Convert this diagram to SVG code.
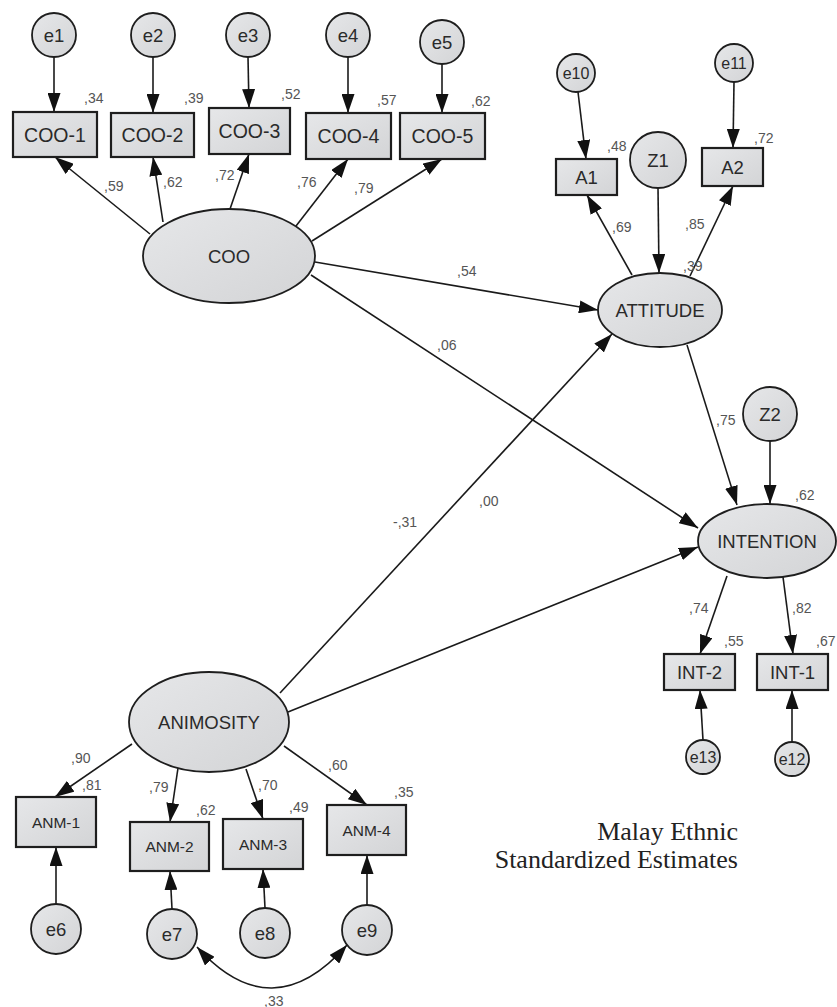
<svg xmlns="http://www.w3.org/2000/svg" width="837" height="1007" viewBox="0 0 837 1007">
<defs>
<linearGradient id="g" x1="0" y1="0" x2="1" y2="1">
<stop offset="0" stop-color="#e6e7e9"/>
<stop offset="1" stop-color="#d3d4d6"/>
</linearGradient>
<marker id="ah" viewBox="0 0 19 13" refX="19" refY="6.5" markerWidth="19" markerHeight="13" orient="auto-start-reverse" markerUnits="userSpaceOnUse">
<path d="M0,0 L19,6.5 L0,13 z" fill="#111"/>
</marker>
<style>
.n{fill:url(#g);stroke:#1e1e1e;stroke-width:1.8}
.r{fill:url(#g);stroke:#1e1e1e;stroke-width:2.2}
.t{font-family:"Liberation Sans",Arial,sans-serif;font-size:18.5px;fill:#2a2a2a;text-anchor:middle;dominant-baseline:central}
.ts{font-size:16px}
.tm{font-size:19.5px}
.ta{font-size:15.5px}
.v{font-family:"Liberation Sans",Arial,sans-serif;font-size:14px;fill:#555}
.c line,.c path{stroke:#1a1a1a;stroke-width:1.6;fill:none;marker-end:url(#ah)}
.cap{font-family:"Liberation Serif","Times New Roman",serif;font-size:26px;fill:#222;text-anchor:end}
</style>
</defs>
<rect width="837" height="1007" fill="#fff"/>

<g id="connectors" class="c">
<line x1="54" y1="57" x2="54" y2="112"/>
<line x1="153" y1="57" x2="153" y2="113"/>
<line x1="248" y1="57" x2="249" y2="108"/>
<line x1="348" y1="57" x2="348" y2="113"/>
<line x1="442" y1="64" x2="442" y2="113"/>
<line x1="150" y1="234" x2="55" y2="157"/>
<line x1="163" y1="222" x2="153" y2="157"/>
<line x1="230" y1="209" x2="249" y2="154"/>
<line x1="296" y1="226" x2="348" y2="159"/>
<line x1="312" y1="241" x2="442" y2="159"/>
<line x1="578" y1="92" x2="586" y2="159"/>
<line x1="734" y1="82" x2="733" y2="148"/>
<line x1="658" y1="188" x2="659" y2="273"/>
<line x1="632" y1="275" x2="587" y2="195"/>
<line x1="690" y1="276" x2="733" y2="186"/>
<line x1="315" y1="262" x2="598" y2="310"/>
<line x1="311" y1="275" x2="698" y2="528"/>
<line x1="280" y1="693" x2="612" y2="334"/>
<line x1="288" y1="712" x2="698" y2="547"/>
<line x1="687" y1="345" x2="737" y2="505"/>
<line x1="770" y1="441" x2="770" y2="504"/>
<line x1="727" y1="576" x2="700" y2="654"/>
<line x1="783" y1="577" x2="793" y2="654"/>
<line x1="703" y1="740" x2="700" y2="690"/>
<line x1="792" y1="742" x2="792" y2="690"/>
<line x1="132" y1="744" x2="55" y2="797"/>
<line x1="178" y1="768" x2="170" y2="822"/>
<line x1="246" y1="769" x2="263" y2="819"/>
<line x1="284" y1="746" x2="367" y2="805"/>
<line x1="56" y1="904" x2="56" y2="847"/>
<line x1="172" y1="909" x2="170" y2="871"/>
<line x1="265" y1="908" x2="263" y2="869"/>
<line x1="367" y1="905" x2="367" y2="855"/>
<path d="M197,947 Q272,1030 347,945" style="marker-start:url(#ah)"/>
</g>

<g id="e1"><circle class="n" cx="54" cy="35" r="22"/><text class="t" x="54" y="35">e1</text></g>
<g id="e2"><circle class="n" cx="153" cy="35" r="22"/><text class="t" x="153" y="35">e2</text></g>
<g id="e3"><circle class="n" cx="248" cy="35" r="22"/><text class="t" x="248" y="35">e3</text></g>
<g id="e4"><circle class="n" cx="348" cy="35" r="22"/><text class="t" x="348" y="35">e4</text></g>
<g id="e5"><circle class="n" cx="442" cy="42" r="22"/><text class="t" x="442" y="42">e5</text></g>

<g id="coo1"><rect class="r" x="13" y="112" width="84" height="45"/><text class="t tm" x="55" y="134.5">COO-1</text></g>
<g id="coo2"><rect class="r" x="111" y="113" width="83" height="44"/><text class="t tm" x="152.5" y="135">COO-2</text></g>
<g id="coo3"><rect class="r" x="209" y="108" width="81" height="46"/><text class="t tm" x="249.5" y="131">COO-3</text></g>
<g id="coo4"><rect class="r" x="306" y="113" width="85" height="46"/><text class="t tm" x="348.5" y="136">COO-4</text></g>
<g id="coo5"><rect class="r" x="400" y="113" width="85" height="46"/><text class="t tm" x="442.5" y="136">COO-5</text></g>

<g id="coo"><ellipse class="n" cx="229" cy="256" rx="86" ry="47"/><text class="t" x="229" y="256">COO</text></g>

<g id="e10"><circle class="n" cx="576" cy="73" r="19"/><text class="t ts" x="576" y="73">e10</text></g>
<g id="e11"><circle class="n" cx="734" cy="63" r="19"/><text class="t ts" x="734" y="63">e11</text></g>
<g id="z1"><circle class="n" cx="658" cy="160" r="28"/><text class="t" x="658" y="160">Z1</text></g>
<g id="a1"><rect class="r" x="556" y="159" width="61" height="36"/><text class="t" x="586.5" y="177">A1</text></g>
<g id="a2"><rect class="r" x="702" y="148" width="61" height="38"/><text class="t" x="732.5" y="167">A2</text></g>
<g id="attitude"><ellipse class="n" cx="660" cy="310" rx="62" ry="37"/><text class="t" x="660" y="310">ATTITUDE</text></g>

<g id="z2"><circle class="n" cx="770" cy="414" r="27"/><text class="t" x="770" y="414">Z2</text></g>
<g id="intention"><ellipse class="n" cx="767" cy="541" rx="69" ry="37"/><text class="t" x="767" y="541">INTENTION</text></g>
<g id="int2"><rect class="r" x="664" y="654" width="71" height="36"/><text class="t" x="699.5" y="672">INT-2</text></g>
<g id="int1"><rect class="r" x="757" y="654" width="71" height="36"/><text class="t" x="792.5" y="672">INT-1</text></g>
<g id="e13"><circle class="n" cx="703" cy="757" r="17"/><text class="t ts" x="703" y="757">e13</text></g>
<g id="e12"><circle class="n" cx="792" cy="759" r="17"/><text class="t ts" x="792" y="759">e12</text></g>

<g id="animosity"><ellipse class="n" cx="209" cy="722" rx="80" ry="50"/><text class="t" x="209" y="722">ANIMOSITY</text></g>
<g id="anm1"><rect class="r" x="16" y="797" width="80" height="50"/><text class="t ta" x="56" y="822">ANM-1</text></g>
<g id="anm2"><rect class="r" x="130" y="822" width="79" height="49"/><text class="t ta" x="169.5" y="846.5">ANM-2</text></g>
<g id="anm3"><rect class="r" x="223" y="819" width="80" height="50"/><text class="t ta" x="263" y="844">ANM-3</text></g>
<g id="anm4"><rect class="r" x="327" y="805" width="79" height="50"/><text class="t ta" x="366.5" y="830">ANM-4</text></g>
<g id="e6"><circle class="n" cx="56" cy="929" r="25"/><text class="t" x="56" y="929">e6</text></g>
<g id="e7"><circle class="n" cx="172" cy="934" r="25"/><text class="t" x="172" y="934">e7</text></g>
<g id="e8"><circle class="n" cx="265" cy="933" r="25"/><text class="t" x="265" y="933">e8</text></g>
<g id="e9"><circle class="n" cx="367" cy="930" r="25"/><text class="t" x="367" y="930">e9</text></g>

<g id="labels">
<text class="v" x="84" y="103">,34</text>
<text class="v" x="184" y="103">,39</text>
<text class="v" x="281" y="99">,52</text>
<text class="v" x="377" y="105">,57</text>
<text class="v" x="471" y="106">,62</text>
<text class="v" x="104" y="191">,59</text>
<text class="v" x="163" y="187">,62</text>
<text class="v" x="215" y="180">,72</text>
<text class="v" x="297" y="187">,76</text>
<text class="v" x="354" y="193">,79</text>
<text class="v" x="607" y="151">,48</text>
<text class="v" x="754" y="143">,72</text>
<text class="v" x="612" y="232">,69</text>
<text class="v" x="685" y="229">,85</text>
<text class="v" x="683" y="271">,39</text>
<text class="v" x="457" y="276">,54</text>
<text class="v" x="437" y="350">,06</text>
<text class="v" x="393" y="527">-,31</text>
<text class="v" x="479" y="506">,00</text>
<text class="v" x="716" y="425">,75</text>
<text class="v" x="795" y="500">,62</text>
<text class="v" x="689" y="613">,74</text>
<text class="v" x="792" y="613">,82</text>
<text class="v" x="724" y="646">,55</text>
<text class="v" x="816" y="646">,67</text>
<text class="v" x="71" y="763">,90</text>
<text class="v" x="82" y="790">,81</text>
<text class="v" x="149" y="792">,79</text>
<text class="v" x="196" y="815">,62</text>
<text class="v" x="258" y="790">,70</text>
<text class="v" x="289" y="812">,49</text>
<text class="v" x="328" y="770">,60</text>
<text class="v" x="394" y="797">,35</text>
<text class="v" x="264" y="1006">,33</text>
</g>

<g id="caption">
<text class="cap" x="738" y="840">Malay Ethnic</text>
<text class="cap" x="738" y="868">Standardized Estimates</text>
</g>
</svg>
